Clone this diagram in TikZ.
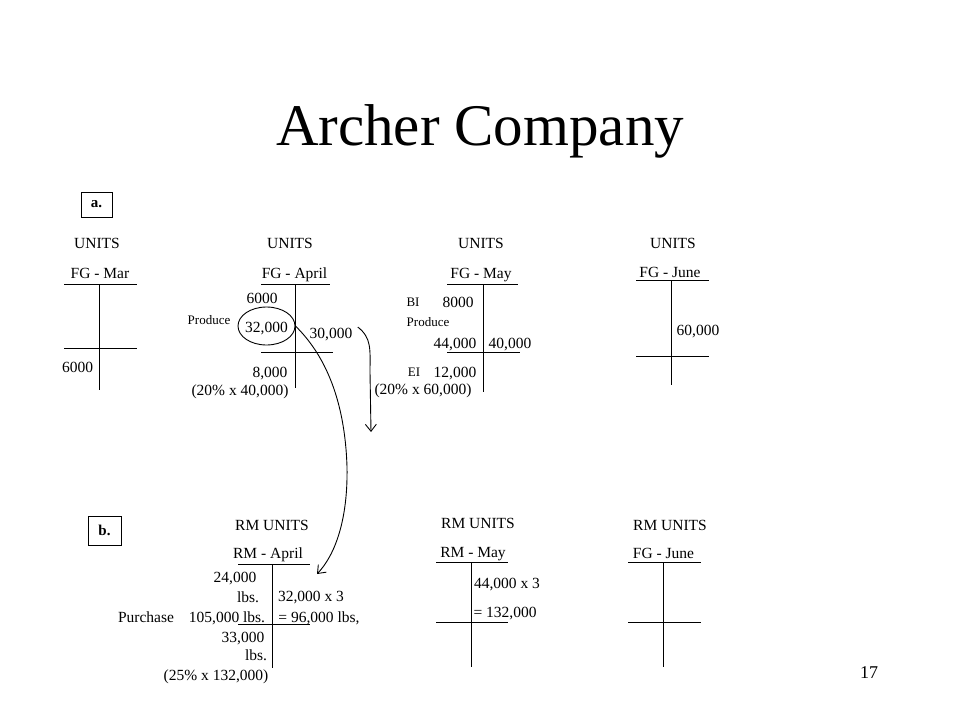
\documentclass[tikz,border=0pt]{standalone}
\usepackage{fontspec}
\setmainfont{Liberation Serif}
\usetikzlibrary{shapes.geometric,arrows.meta}

\tikzset{
  lbl/.style={font=\fontsize{15.5}{18}\selectfont, inner sep=0pt, text height=11pt, text depth=0pt},
  tiny/.style={font=\fontsize{13}{15}\selectfont, inner sep=0pt, text height=8.5pt, text depth=0pt},
  partbox/.style={draw, font=\bfseries\fontsize{15}{17}\selectfont, inner sep=0pt},
  ring/.style={draw, ellipse, inner sep=0pt, minimum width=57pt, minimum height=38pt},
  >={Straight Barb[length=7pt,width=11pt]}
}

\begin{document}
\begin{tikzpicture}[x=1pt,y=-1pt,line width=0.9pt]
        \useasboundingbox (0,0) rectangle (960,720);
        \node[font=\fontsize{59}{64}\selectfont, inner sep=0pt, text height=40pt, text depth=0pt] (title) at (480,125) {Archer Company};
        \node[partbox, minimum width=31pt, minimum height=25pt] (parta) at (96.5,204.5) {a.};

        % FG - Mar
        \node[lbl] (marunits) at (97,243) {UNITS};
        \node[lbl] (marname) at (100,273) {FG - Mar};
        \draw (64,284) -- (137,284);
        \draw (99,284) -- (99,390);
        \draw (64,348) -- (137,348);
        \node[lbl] (marei) at (77.5,367) {6000};

        % FG - April
        \node[lbl] (aprunits) at (290,243) {UNITS};
        \node[lbl] (aprname) at (294.5,273) {FG - April};
        \draw (261,284) -- (330,284);
        \draw (295,284) -- (295,388);
        \draw (261,352) -- (333,352);
        \node[lbl] (aprbi) at (262,298) {6000};
        \node[tiny] (aprprod) at (209,320) {Produce};
        \node[lbl] (aprmake) at (266.5,327) {32,000};
        \node[ring] (aprring) at (266.5,326) {};
        \node[lbl] (aprsales) at (331,333) {30,000};
        \node[lbl] (aprei) at (270,372) {8,000};
        \node[lbl] (aprnote) at (240,390) {(20\% x 40,000)};

        % FG - May
        \node[lbl] (mayunits) at (481,243) {UNITS};
        \node[lbl] (mayname) at (481,273) {FG - May};
        \draw (447,284) -- (518,284);
        \draw (483,284) -- (483,392);
        \draw (447,352) -- (520,352);
        \node[tiny] (maybitag) at (413,302) {BI};
        \node[lbl] (maybi) at (458,302) {8000};
        \node[tiny] (mayprod) at (428,322) {Produce};
        \node[lbl] (maymake) at (455,343) {44,000};
        \node[lbl] (maysales) at (510,343) {40,000};
        \node[tiny] (mayeitag) at (414,372) {EI};
        \node[lbl] (mayei) at (455,372) {12,000};
        \node[lbl] (maynote) at (423,389) {(20\% x 60,000)};

        % FG - June
        \node[lbl] (jununits) at (673,243) {UNITS};
        \node[lbl] (junname) at (670,272) {FG - June};
        \draw (636,280) -- (709,280);
        \draw (671,280) -- (671,385);
        \draw (636,356) -- (709,356);
        \node[lbl] (junsales) at (698,330) {60,000};

        % RM - April
        \node[partbox, minimum width=33pt, minimum height=29pt] (partb) at (104.5,530.5) {b.};
        \node[lbl] (rmaprunits) at (272,525) {RM UNITS};
        \node[lbl] (rmaprname) at (268,553) {RM - April};
        \draw (238,564) -- (310,564);
        \draw (272,564) -- (272,668);
        \draw (238,624) -- (310,624);
        \node[lbl] (rmaprbi) at (235,577) {24,000};
        \node[lbl] (rmaprbiu) at (248,597) {lbs.};
        \node[lbl] (rmaprtag) at (146,617) {Purchase};
        \node[lbl] (rmaprbuy) at (227,617) {105,000 lbs.};
        \node[lbl] (rmapruse) at (311,596) {32,000 x 3};
        \node[lbl] (rmapruset) at (319,617) {= 96,000 lbs,};
        \node[lbl] (rmaprei) at (243,637) {33,000};
        \node[lbl] (rmapreiu) at (256,655) {lbs.};
        \node[lbl] (rmaprnote) at (216,675) {(25\% x 132,000)};

        % RM - May
        \node[lbl] (rmmayunits) at (478,523) {RM UNITS};
        \node[lbl] (rmmayname) at (473,552) {RM - May};
        \draw (436,562) -- (508,562);
        \draw (471,562) -- (471,667);
        \draw (436,622) -- (508,622);
        \node[lbl] (rmmayuse) at (507,583) {44,000 x 3};
        \node[lbl] (rmmayuset) at (505,612) {= 132,000};

        % RM - June
        \node[lbl] (rmjununits) at (670,525) {RM UNITS};
        \node[lbl] (rmjunname) at (663.5,553) {FG - June};
        \draw (628,562) -- (701,562);
        \draw (663,562) -- (663,667);
        \draw (628,622) -- (701,622);

        \node[font=\fontsize{18}{20}\selectfont, inner sep=0pt] (pagenum) at (869,673) {17};

        % links
        \coordinate (mayin) at (371,432);
        \coordinate (rmin) at (317,574);
        \draw[->] ([xshift=5pt]aprsales.north east) .. controls (372,338) and (370,350) .. (370,372) -- (mayin);
        \draw[->] (aprring.east) .. controls (325,355) and (345,400) .. (347,467) .. controls (348,520) and (335,555) .. (rmin);
    \end{tikzpicture}
\end{document}
